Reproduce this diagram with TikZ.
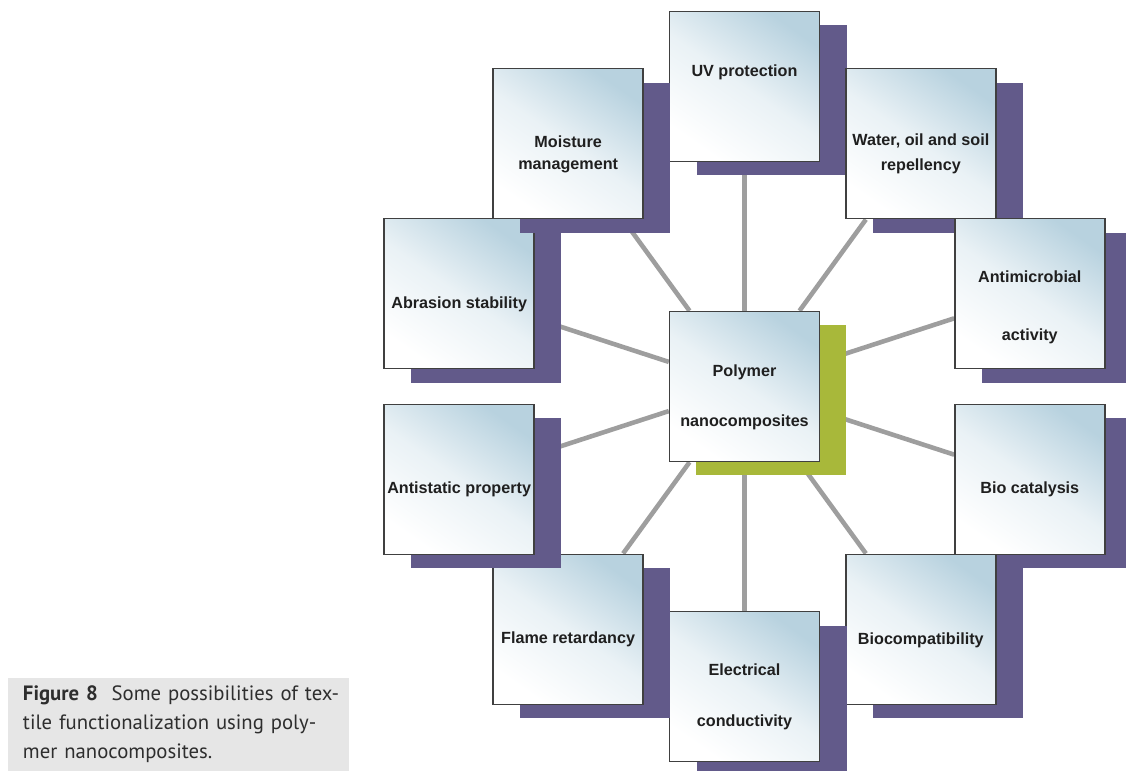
\documentclass[tikz,border=0pt]{standalone}
\usepackage{fontspec}
\setmainfont{Liberation Sans}
\newfontfamily\captionfont{PT Sans}
\usetikzlibrary{shadows}

\definecolor{shadowpurple}{RGB}{98,90,138}
\definecolor{coregreen}{RGB}{168,184,58}
\definecolor{cardblue}{RGB}{184,210,223}
\definecolor{linkgray}{RGB}{158,158,158}
\definecolor{captiongray}{RGB}{230,230,230}

\pgfdeclarelayer{bg}
\pgfdeclarelayer{links}
\pgfsetlayers{bg,links,main}

\begin{document}
\begin{tikzpicture}[
    card/.style={draw=black!75, line width=0.8pt, minimum width=3cm, minimum height=3cm,
      inner sep=0pt, top color=cardblue, bottom color=white, middle color=cardblue!30,
      shading angle=-35},
    outer/.style={card, general shadow={fill=shadowpurple, shadow xshift=0.54cm, shadow yshift=-0.28cm}},
    core/.style={card, general shadow={fill=coregreen, shadow xshift=0.53cm, shadow yshift=-0.28cm}},
    cardtext/.style={font=\bfseries\fontsize{9.2}{13}\selectfont, text=black!88, align=center, inner sep=0pt},
    link/.style={draw=linkgray, line width=2.6pt},
    caption/.style={fill=captiongray, minimum width=6.82cm, minimum height=1.86cm, text width=6.82cm,
      inner sep=0pt, align=left, font=\captionfont\fontsize{11.8}{16.5}\selectfont, text=black!82}
]
    \begin{pgfonlayer}{bg}
        \fill[white] (-14.89,-7.69) rectangle (7.63,7.73);
    \end{pgfonlayer}
    \useasboundingbox (-14.89,-7.69) rectangle (7.63,7.73);

    % Boxes
    \node[core] (poly) at (0,0) {};
    \node[outer] (uv) at (90:6) {};
    \node[outer] (water) at (54:6) {};
    \node[outer] (antimic) at (18:6) {};
    \node[outer] (biocat) at (-18:6) {};
    \node[outer] (biocomp) at (-54:6) {};
    \node[outer] (elec) at (-90:6) {};
    \node[outer] (flame) at (-126:6) {};
    \node[outer] (antistat) at (-162:6) {};
    \node[outer] (abrasion) at (162:6) {};
    \node[outer] (moist) at (126:6) {};

    % Labels
    \node[cardtext] (polytxt) at ([yshift=-0.22cm]poly.center) {Polymer\\[15.5pt]nanocomposites};
    \node[cardtext] (uvtxt) at ([yshift=0.28cm]uv.center) {UV protection};
    \node[cardtext] (watertxt) at ([yshift=-0.2cm]water.center) {Water, oil and soil\\[1pt]repellency};
    \node[cardtext] (antimictxt) at ([yshift=-0.27cm]antimic.center) {Antimicrobial\\[20pt]activity};
    \node[cardtext] (biocattxt) at ([yshift=-0.2cm]biocat.center) {Bio catalysis};
    \node[cardtext] (biocomptxt) at ([yshift=-0.22cm]biocomp.center) {Biocompatibility};
    \node[cardtext] (electxt) at ([yshift=-0.2cm]elec.center) {Electrical\\[16pt]conductivity};
    \node[cardtext] (flametxt) at ([yshift=-0.2cm]flame.center) {Flame retardancy};
    \node[cardtext] (antistattxt) at ([yshift=-0.2cm]antistat.center) {Antistatic property};
    \node[cardtext] (abrasiontxt) at ([yshift=-0.22cm]abrasion.center) {Abrasion stability};
    \node[cardtext] (moisttxt) at ([yshift=-0.21cm]moist.center) {Moisture\\management};

    % Connectors
    \begin{pgfonlayer}{links}
        \foreach \n in {uv,water,antimic,biocat,biocomp,elec,flame,antistat,abrasion,moist}
            \draw[link] (poly) -- (\n);
    \end{pgfonlayer}

    % Caption
    \node[caption] (cap) at (-11.32,-6.76) {%
        \hspace*{0.3cm}\makebox[6.48cm][s]{\textbf{Figure 8}\ \ Some possibilities of tex-}\\
        \hspace*{0.3cm}\makebox[6.48cm][s]{tile functionalization using poly-}\\
        \hspace*{0.3cm}mer nanocomposites.};
\end{tikzpicture}
\end{document}
